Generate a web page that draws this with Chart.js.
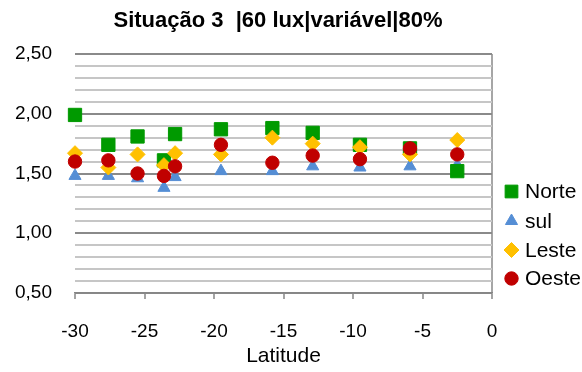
<!DOCTYPE html>
<html>
<head>
<meta charset="utf-8">
<script src="https://cdn.jsdelivr.net/npm/chart.js@4.4.1/dist/chart.umd.min.js"></script>
<style>
  html, body { margin: 0; padding: 0; background: #fff; }
  #wrap { width: 582px; height: 372px; position: relative; }
</style>
</head>
<body>
<div id="wrap"><canvas id="chart"></canvas></div>
<script>
// values
const chartTitle = 'Situação 3  |60 lux|variável|80%';
const latitudes = [-30.0, -27.6, -25.5, -23.6, -22.8, -19.5, -15.8, -12.9, -9.5, -5.9, -2.5];
const norte = [1.99, 1.74, 1.81, 1.61, 1.83, 1.87, 1.88, 1.84, 1.74, 1.71, 1.52];
const sul   = [1.48, 1.48, 1.46, 1.38, 1.47, 1.52, 1.52, 1.56, 1.55, 1.56, 1.57];
const leste = [1.67, 1.55, 1.66, 1.57, 1.67, 1.66, 1.80, 1.75, 1.72, 1.66, 1.78];
const oeste = [1.60, 1.61, 1.50, 1.48, 1.56, 1.74, 1.59, 1.65, 1.62, 1.71, 1.66];
const seriesNames = ['Norte', 'sul', 'Leste', 'Oeste'];
const xTitle = 'Latitude';
const yLabelTicks = [0.5, 1.0, 1.5, 2.0, 2.5];

const FONT = "'Liberation Sans', Arial, sans-serif";

const markers = {
  Norte: { color: '#009a00', style: 'rect', radius: 9.4, order: 2 },
  sul:   { color: '#558ed5', style: 'triangle', radius: 7, order: 3 },
  Leste: { color: '#ffc000', style: 'rectRot', radius: 7.5, order: 1 },
  Oeste: { color: '#c00000', style: 'circle', radius: 6.7, order: 0 },
};

const seriesValues = [norte, sul, leste, oeste];

const datasets = seriesNames.map((name, i) => {
  const m = markers[name];
  return {
    label: name,
    data: latitudes.map((lat, j) => ({ x: lat, y: seriesValues[i][j] })),
    backgroundColor: m.color,
    borderColor: m.color,
    borderWidth: 1,
    pointStyle: m.style,
    pointRadius: m.radius,
    pointHoverRadius: m.radius,
    order: m.order,
    showLine: false,
    clip: false,
  };
});

function isLabelTick(v) {
  return yLabelTicks.some(t => Math.abs(t - v) < 1e-6);
}

// title and legend drawn by hand so they sit where the original has them
const sideLegend = {
  id: 'sideLegend',
  afterDraw(chart) {
    const ctx = chart.ctx;
    ctx.save();
    ctx.fillStyle = '#000';
    ctx.font = 'bold 22px ' + FONT;
    ctx.textAlign = 'center';
    ctx.textBaseline = 'alphabetic';
    ctx.fillText(chartTitle, 278, 27);

    const rowY = [191.5, 221, 250, 278.5];
    ctx.font = '21px ' + FONT;
    ctx.textAlign = 'left';
    seriesNames.forEach((name, i) => {
      const m = markers[name];
      ctx.fillStyle = m.color;
      ctx.strokeStyle = m.color;
      ctx.lineWidth = 1;
      Chart.helpers.drawPoint(ctx, {
        pointStyle: m.style,
        radius: m.style === 'rect' ? 9 : m.radius,
        rotation: 0,
        borderWidth: 1,
      }, 511.5, rowY[i]);
      ctx.fillStyle = '#000';
      ctx.fillText(name, 525, rowY[i] + 6.5);
    });
    ctx.restore();
  }
};

new Chart(document.getElementById('chart'), {
  type: 'scatter',
  data: { datasets },
  plugins: [sideLegend],
  options: {
    responsive: true,
    maintainAspectRatio: false,
    animation: false,
    layout: { padding: { top: 54, right: 90, bottom: 0, left: 0 } },
    plugins: {
      legend: { display: false },
      title: { display: false },
      tooltip: { enabled: false },
    },
    scales: {
      x: {
        type: 'linear',
        min: -30,
        max: 0,
        afterFit: (scale) => { scale.height = 79; },
        ticks: {
          stepSize: 5,
          color: '#000',
          padding: 21,
          font: { family: FONT, size: 19 },
        },
        grid: {
          color: (c) => (c.tick && c.tick.value === 0 ? '#a6a6a6' : 'rgba(0,0,0,0)'),
          lineWidth: 2,
          drawTicks: true,
          tickLength: 6,
          tickColor: '#868686',
          tickWidth: 1.5,
        },
        border: { display: true, color: '#868686', width: 1.5 },
        title: {
          display: true,
          text: xTitle,
          color: '#000',
          font: { family: FONT, size: 21 },
          padding: { top: 4, bottom: 3 },
        },
      },
      y: {
        type: 'linear',
        min: 0.5,
        max: 2.5,
        afterFit: (scale) => { scale.width = 75; },
        ticks: {
          stepSize: 0.1,
          autoSkip: false,
          color: '#000',
          padding: 23,
          font: { family: FONT, size: 19 },
          callback: (v) => (isLabelTick(v) ? v.toFixed(2).replace('.', ',') : ''),
        },
        grid: {
          color: (c) => (c.tick && isLabelTick(c.tick.value) ? '#8a8a8a' : '#c6c6c6'),
          lineWidth: 2,
          drawTicks: false,
        },
        border: { display: false },
      },
    },
  },
});
</script>
</body>
</html>
